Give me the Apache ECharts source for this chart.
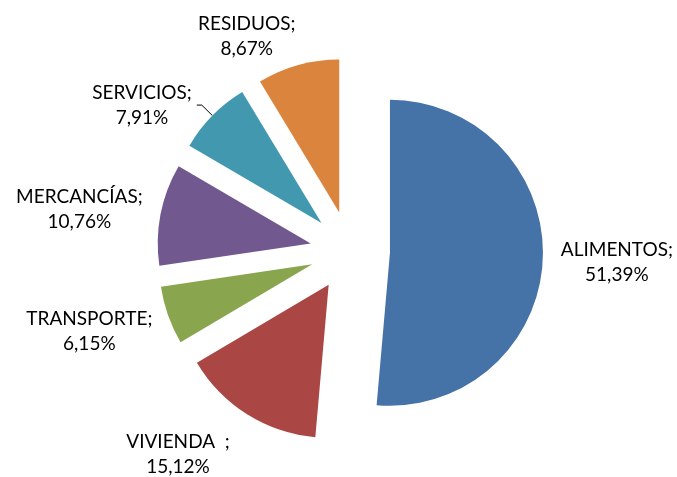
<!DOCTYPE html>
<html>
<head>
<meta charset="utf-8">
<script src="https://cdn.jsdelivr.net/npm/echarts@6/dist/echarts.min.js"></script>
<style>
  html, body { margin: 0; padding: 0; background: #fff; }
  #chart { width: 677px; height: 477px; }
</style>
</head>
<body>
<div id="chart"></div>
<script>
// categorias y porcentajes (orden de las agujas del reloj desde arriba)
const categories = ['ALIMENTOS', 'VIVIENDA', 'TRANSPORTE', 'MERCANCÍAS', 'SERVICIOS', 'RESIDUOS']
const values = [51.39, 15.12, 6.15, 10.76, 7.91, 8.67]
const labelNames = ['ALIMENTOS;', 'VIVIENDA  ;', 'TRANSPORTE;', 'MERCANCÍAS;', 'SERVICIOS;', 'RESIDUOS;']

const colors = ['#4572A7', '#AA4643', '#89A54E', '#71588F', '#4198AF', '#DB843D']
// ajuste de etiquetas: largo de la linea guia y desplazamiento
const lineLen1 = [10, 25, 5, 10, 15, 32]
const lineLen2 = [1, 1, 6, 3, 5, 2]
const labelDx = [2, 2, 0, 0, 0, 13]
const labelDy = [3, 19, 14, -3, 0, 2]

const chart = echarts.init(document.getElementById('chart'))

const option = {
  animation: false,
  series: [{
    type: 'pie',
    left: 0,
    top: 0,
    width: 760,
    height: 477,
    center: [350, 251],
    radius: [0, 153],
    startAngle: 90,
    clockwise: true,
    selectedMode: 'multiple',
    selectedOffset: 40,
    avoidLabelOverlap: false,
    label: {
      show: true,
      position: 'outside',
      bleedMargin: 0,
      color: '#000',
      fontFamily: 'Lato',
      fontSize: 19,
      formatter: (p) => '{t|' + labelNames[p.dataIndex] + '}\n{t|' + p.value.toFixed(2).replace('.', ',') + '%}',
      rich: {
        t: { align: 'center', fontFamily: 'Lato', fontSize: 19, lineHeight: 25, color: '#000' }
      }
    },
    labelLine: {
      show: false,
      lineStyle: { color: '#000', width: 1 }
    },
    labelLayout: (params) => {
      const dx = labelDx[params.dataIndex]
      const dy = labelDy[params.dataIndex]
      return (dx || dy) ? { dx: dx, dy: dy } : {}
    },
    emphasis: { disabled: true },
    itemStyle: { borderWidth: 0 },
    data: categories.map((name, i) => ({
      name: name,
      value: values[i],
      selected: true,
      itemStyle: { color: colors[i] },
      select: { itemStyle: { color: colors[i] } },
      labelLine: {
        show: name === 'SERVICIOS',
        length: lineLen1[i],
        length2: lineLen2[i]
      }
    }))
  }]
}

chart.setOption(option)
</script>
</body>
</html>
